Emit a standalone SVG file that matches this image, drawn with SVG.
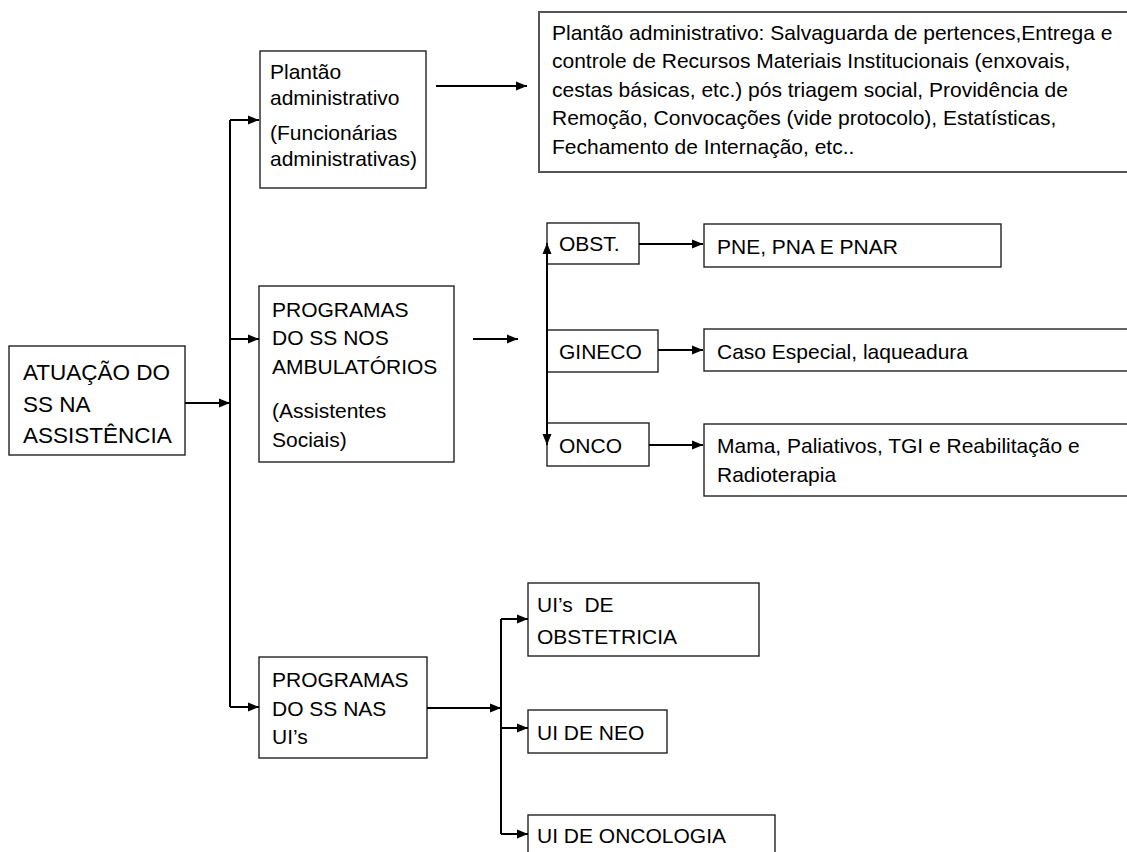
<svg xmlns="http://www.w3.org/2000/svg" width="1127" height="852" viewBox="0 0 1127 852">
<defs>
<marker id="ah" markerUnits="userSpaceOnUse" markerWidth="12" markerHeight="10" refX="11" refY="5" orient="auto-start-reverse">
<path d="M0,0.5 L11,5 L0,9.5 z" fill="#000"/>
</marker>
<style>
.box{fill:#fff;stroke:#222;stroke-width:1.4}
.t{font-family:"Liberation Sans",Arial,sans-serif;font-size:21px;fill:#000}
.big{font-size:22.5px}
.c{fill:none;stroke:#000;stroke-width:2}
.a{marker-end:url(#ah)}
</style>
</defs>
<rect width="1127" height="852" fill="#fff"/>

<g id="n-atuacao">
<rect class="box" x="9" y="346" width="176" height="109"/>
<text class="t big" x="23" y="380">ATUAÇÃO DO</text>
<text class="t big" x="23" y="412">SS NA</text>
<text class="t big" x="23" y="443">ASSISTÊNCIA</text>
</g>

<g id="n-plantao">
<rect class="box" x="260" y="51" width="166" height="137"/>
<text class="t" x="270" y="79">Plantão</text>
<text class="t" x="270" y="105">administrativo</text>
<text class="t" x="270" y="140">(Funcionárias</text>
<text class="t" x="270" y="166">administrativas)</text>
</g>

<g id="n-plantao-desc">
<rect class="box" x="539" y="12" width="600" height="160" style="stroke:#555;stroke-width:2"/>
<text class="t" x="552" y="40">Plantão administrativo: Salvaguarda de pertences,Entrega e</text>
<text class="t" x="552" y="68">controle de Recursos Materiais Institucionais (enxovais,</text>
<text class="t" x="552" y="97">cestas básicas, etc.) pós triagem social, Providência de</text>
<text class="t" x="552" y="125">Remoção, Convocações (vide protocolo), Estatísticas,</text>
<text class="t" x="552" y="154">Fechamento de Internação, etc..</text>
</g>

<g id="n-prog-amb">
<rect class="box" x="259" y="286" width="195" height="176"/>
<text class="t" x="272" y="317">PROGRAMAS</text>
<text class="t" x="272" y="345">DO SS NOS</text>
<text class="t" x="272" y="374">AMBULATÓRIOS</text>
<text class="t" x="272" y="418">(Assistentes</text>
<text class="t" x="272" y="447">Sociais)</text>
</g>

<g id="n-obst">
<rect class="box" x="547" y="223" width="92" height="41"/>
<text class="t" x="559" y="251">OBST.</text>
</g>
<g id="n-pne">
<rect class="box" x="704" y="224" width="297" height="43"/>
<text class="t" x="717" y="254">PNE, PNA E PNAR</text>
</g>

<g id="n-gineco">
<rect class="box" x="547" y="330" width="111" height="42"/>
<text class="t" x="559" y="359">GINECO</text>
</g>
<g id="n-caso">
<rect class="box" x="704" y="329" width="430" height="42"/>
<text class="t" x="717" y="359">Caso Especial, laqueadura</text>
</g>

<g id="n-onco">
<rect class="box" x="547" y="423" width="102" height="43"/>
<text class="t" x="559" y="453">ONCO</text>
</g>
<g id="n-mama">
<rect class="box" x="704" y="424" width="430" height="72"/>
<text class="t" x="717" y="453">Mama, Paliativos, TGI e Reabilitação e</text>
<text class="t" x="717" y="482">Radioterapia</text>
</g>

<g id="n-prog-ui">
<rect class="box" x="259" y="657" width="168" height="101"/>
<text class="t" x="272" y="687">PROGRAMAS</text>
<text class="t" x="272" y="716">DO SS NAS</text>
<text class="t" x="272" y="744">UI’s</text>
</g>

<g id="n-ui-obst">
<rect class="box" x="528" y="583" width="231" height="73"/>
<text class="t" x="537" y="612" xml:space="preserve">UI’s  DE</text>
<text class="t" x="537" y="644">OBSTETRICIA</text>
</g>

<g id="n-ui-neo">
<rect class="box" x="528" y="710" width="139" height="43"/>
<text class="t" x="537" y="740">UI DE NEO</text>
</g>

<g id="n-ui-onco">
<rect class="box" x="528" y="815" width="247" height="50"/>
<text class="t" x="537" y="843">UI DE ONCOLOGIA</text>
</g>

<g id="connectors">
<path class="c a" d="M185,403 H230"/>
<path class="c" d="M230,120 V707"/>
<path class="c a" d="M230,120 H259"/>
<path class="c a" d="M230,339 H259"/>
<path class="c a" d="M230,707 H259"/>
<path class="c a" d="M436,86 H527"/>
<path class="c a" d="M473,339 H518"/>
<path class="c" d="M547,243 V445" style="marker-start:url(#ah);marker-end:url(#ah)"/>
<path class="c a" d="M639,244 H703"/>
<path class="c a" d="M658,350 H703"/>
<path class="c a" d="M649,445 H703"/>
<path class="c a" d="M427,708 H501"/>
<path class="c" d="M501,619 V834"/>
<path class="c a" d="M501,619 H528"/>
<path class="c a" d="M501,728 H528"/>
<path class="c a" d="M501,834 H528"/>
</g>
</svg>
